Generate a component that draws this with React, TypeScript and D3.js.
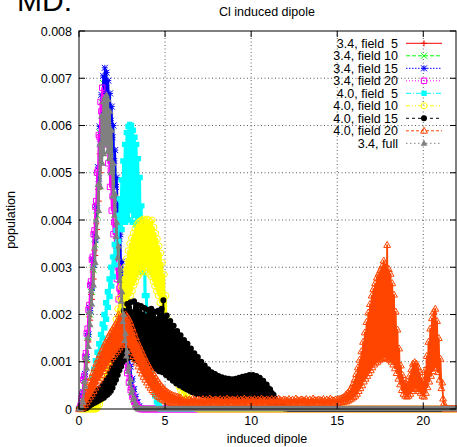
import React from "react";
import * as d3 from "d3";

// ---------- data (population in units of 1e-5, histogram bins of 0.05) ----------
const BIN = 0.05;
const X_END = 21.9;
const UNIT = 1e-5;

const X_TICKS = [0, 5, 10, 15, 20];
const Y_TICKS = [0, 0.001, 0.002, 0.003, 0.004, 0.005, 0.006, 0.007, 0.008];
const Y_TICK_LABELS = ["0", "0.001", "0.002", "0.003", "0.004", "0.005", "0.006", "0.007", "0.008"];

const SERIES_NAMES = [
  "3.4, field  5", "3.4, field 10", "3.4, field 15", "3.4, field 20",
  "4.0, field  5", "4.0, field 10", "4.0, field 15", "4.0, field 20", "3.4, full",
];

const START_34_F5 = 0;
const POP_34_F5 = [0,0,2,10,22,30,55,62,100,98,
145,142,195,188,242,232,290,275,335,325,
392,380,465,440,540,500,600,560,640,580,
655,590,650,575,640,560,615,530,575,480,
505,430,440,380,385,330,335,285,290,238,
240,195,195,152,155,118,118,88,88,62,
60,40,40,24,24,12,12,5,5,2,1,0];

const START_34_F10 = 0;
const POP_34_F10 = [0,0,3,12,26,34,62,70,108,106,
155,152,208,200,258,248,310,295,360,348,
420,410,500,470,585,540,650,600,690,640,
700,650,690,630,665,600,630,560,585,500,
515,445,450,390,395,335,340,285,290,235,
238,190,192,148,150,112,112,82,82,56,
55,36,35,20,20,10,10,4,4,1,1,0];

const START_34_F15 = 0;
const POP_34_F15 = [0,0,3,13,28,36,66,74,112,110,
160,158,215,208,265,256,318,305,370,358,
432,425,512,488,598,560,665,620,705,660,
722,670,712,660,695,640,668,610,640,575,
600,525,548,470,490,415,430,360,370,305,
312,250,255,200,205,158,160,120,122,90,
90,62,64,42,42,26,26,14,14,6,5,2,1,0];

const START_34_F20 = 0;
const POP_34_F20 = [0,2,8,22,32,62,70,110,118,160,
170,210,220,262,270,316,322,370,378,428,
440,500,505,580,575,650,630,680,600,665,
590,645,560,610,520,560,470,505,420,450,
370,395,320,345,275,300,232,255,195,215,
160,178,128,145,100,114,76,88,56,66,
40,46,26,30,15,18,8,10,3,4,1,0];

const START_40_F5 = 0.4;
const POP_40_F5 = [0,8,4,24,18,44,36,66,52,84,
70,102,84,120,100,138,118,158,135,180,
150,200,172,225,190,248,215,275,238,300,
260,322,280,348,305,378,330,410,355,445,
385,485,380,525,400,560,395,585,410,598,
400,602,420,600,395,590,410,575,390,560,
380,530,360,490,330,430,290,370,240,305,
195,240,150,180,108,130,75,90,48,58,
28,34,15,18,6,8,2,0];

const START_40_F10 = 1.0;
const POP_40_F10 = [0,6,3,16,10,30,20,46,32,62,
46,78,60,95,75,112,88,130,102,150,
115,170,128,190,140,212,150,235,165,258,
175,280,190,300,200,318,215,335,225,350,
240,362,250,372,262,382,270,390,280,395,
285,398,290,400,295,402,290,398,300,402,
290,400,285,396,280,400,270,385,260,372,
250,360,240,345,225,330,210,310,190,285,
165,240,140,190,120,155,100,130,88,112,
76,98,66,86,56,74,48,64,40,54,
34,46,28,38,22,30,16,24,12,18,
8,12,5,8,3,4,1,2,0];

const START_40_F15 = 0.3;
const POP_40_F15 = [0,4,8,2,12,5,18,8,22,10,26,12,30,14,36,16,40,18,44,20,
46,22,52,24,55,28,62,30,66,34,76,38,88,45,102,55,120,62,142,72,
158,82,180,90,192,100,208,104,200,112,222,108,214,118,226,110,205,116,228,104,
212,112,220,100,206,110,218,98,200,106,214,95,196,104,210,92,202,100,212,88,
196,96,206,85,190,92,208,80,198,88,212,78,230,82,192,72,198,76,180,66,
186,68,170,60,176,62,160,54,165,56,150,50,156,52,142,46,146,44,132,42,
138,40,124,38,128,36,115,35,118,34,106,32,110,32,98,31,100,30,90,29,
92,29,82,28,84,28,76,27,78,27,72,26,74,26,68,25,70,25,64,25,
67,24,62,24,65,24,60,24,64,24,60,24,63,24,61,24,64,25,62,25,
66,25,63,25,68,26,64,26,70,26,66,26,72,26,67,26,72,25,66,25,
70,24,64,24,66,23,60,22,60,20,52,18,52,16,44,14,42,12,34,10,
30,8,22,6,18,5,13,4,10,3,6,2,5,1,3,1,2,0,1,0];

const START_40_F20 = 0;
const POP_40_F20 = [0,0,0,2,8,3,22,8,34,14,46,20,56,26,66,32,76,38,86,45,
96,52,105,60,114,66,122,72,130,80,138,86,145,92,152,98,160,105,166,110,
172,115,178,120,185,125,200,130,192,135,196,138,198,140,200,138,196,135,190,128,
182,120,172,112,162,105,152,98,142,90,134,82,126,75,118,68,110,62,102,56,
95,50,88,45,82,40,76,36,70,32,64,28,58,25,53,22,48,20,44,18,
40,16,37,15,34,14,32,13,30,12,28,12,27,11,26,11,25,10,24,10,
19,12,18,14,21,11,17,13,20,12,18,14,22,10,19,13,18,12,20,11,
19,12,18,14,21,11,17,13,20,12,18,14,22,10,19,13,18,12,20,11,
19,12,18,14,21,11,17,13,20,12,18,14,22,10,19,13,18,12,20,11,
19,12,18,14,21,11,17,13,20,12,18,14,22,10,19,13,18,12,20,11,
19,12,18,14,21,11,17,13,20,12,18,14,22,10,19,13,18,12,20,11,
19,12,18,14,21,11,17,13,20,12,18,14,22,10,19,13,18,12,20,11,
19,12,18,14,21,11,17,13,20,12,18,14,22,10,19,13,18,12,20,11,
19,12,18,14,21,11,17,13,20,12,18,14,22,10,19,13,18,12,20,11,
19,12,18,14,21,11,17,13,20,12,18,14,22,10,19,13,18,12,20,11,
20,13,21,14,22,14,24,15,26,16,
30,16,34,18,38,20,44,22,52,25,62,28,74,32,88,38,104,44,122,50,
142,58,162,64,184,70,204,76,222,82,240,88,254,94,266,98,278,100,286,104,
294,106,302,108,314,110,306,108,347,106,296,104,286,100,266,94,242,86,206,76,
168,64,128,52,92,40,72,32,60,28,54,26,58,28,70,32,84,38,96,42,
99,44,96,42,88,38,78,34,66,28,58,26,82,34,112,46,142,58,170,70,
192,80,206,86,212,88,186,78,150,62,106,44,56,22,12,4,0];

const START_34_FULL = 0;
const POP_34_FULL = [0,0,0,5,18,14,58,48,110,86,
150,132,205,178,250,222,298,262,342,310,
400,365,475,420,560,470,620,520,650,540,
660,560,665,545,655,530,630,500,590,450,
520,410,455,365,395,320,345,272,295,228,
248,185,200,145,160,112,122,80,90,55,
62,34,40,20,24,9,12,4,5,1,2,0];

const SERIES_DATA = [
  { start: START_34_F5, values: POP_34_F5 },
  { start: START_34_F10, values: POP_34_F10 },
  { start: START_34_F15, values: POP_34_F15 },
  { start: START_34_F20, values: POP_34_F20 },
  { start: START_40_F5, values: POP_40_F5 },
  { start: START_40_F10, values: POP_40_F10 },
  { start: START_40_F15, values: POP_40_F15 },
  { start: START_40_F20, values: POP_40_F20 },
  { start: START_34_FULL, values: POP_34_FULL },
];

// ---------- styles ----------
const STYLES = [
  { color: "#ff0000", dash: "", marker: "plus" },
  { color: "#00ff00", dash: "4,2", marker: "cross" },
  { color: "#0000ff", dash: "1.5,1.5", marker: "star" },
  { color: "#ff00ff", dash: "1,2", marker: "osquare" },
  { color: "#00ffff", dash: "5,2,1,2", marker: "fsquare" },
  { color: "#ffff00", dash: "4,2,1,2,1,2", marker: "ocircle" },
  { color: "#000000", dash: "3,3", marker: "fcircle" },
  { color: "#ff4500", dash: "3,2", marker: "otriangle" },
  { color: "#808080", dash: "1.5,2.5", marker: "ftriangle" },
];

const FONT = '"Liberation Sans", Arial, Helvetica, sans-serif';
const W = 457, H = 447;
const LEFT = 79, RIGHT = 456, TOP = 31, BOTTOM = 409;

const f = (v: number) => Math.round(v * 100) / 100;

function markerPath(type: string, x: number, y: number): string {
  const s = 3;
  x = f(x); y = f(y);
  switch (type) {
    case "plus":
      return `M${x - s},${y}H${x + s}M${x},${y - s}V${y + s}`;
    case "cross":
      return `M${x - s},${y - s}L${x + s},${y + s}M${x - s},${y + s}L${x + s},${y - s}`;
    case "star":
      return `M${x - s},${y}H${x + s}M${x},${y - s}V${y + s}M${x - s},${y - s}L${x + s},${y + s}M${x - s},${y + s}L${x + s},${y - s}`;
    case "osquare":
    case "fsquare": {
      const q = 2.7;
      return `M${f(x - q)},${f(y - q)}h${2 * q}v${2 * q}h${-2 * q}Z`;
    }
    case "ocircle":
    case "fcircle": {
      const r = 3;
      return `M${x - r},${y}a${r},${r} 0 1,0 ${2 * r},0a${r},${r} 0 1,0 ${-2 * r},0`;
    }
    default:
      return `M${x},${f(y - 3.6)}L${f(x + 3.4)},${f(y + 2.4)}L${f(x - 3.4)},${f(y + 2.4)}Z`;
  }
}

function markerStyle(type: string, color: string) {
  if (type === "fsquare" || type === "fcircle" || type === "ftriangle") {
    return { fill: color, stroke: "none" };
  }
  return { fill: "none", stroke: color, strokeWidth: 1 };
}

export default function App() {
  const x = d3.scaleLinear().domain([0, X_END]).range([LEFT, RIGHT]);
  const y = d3.scaleLinear().domain([0, 0.008]).range([BOTTOM, TOP]);
  const nBins = Math.round(X_END / BIN);

  const series = SERIES_DATA.map((s, si) => {
    const k0 = Math.round(s.start / BIN);
    const pts: [number, number][] = [];
    for (let i = 0; i <= nBins; i++) {
      const j = i - k0;
      const v = j >= 0 && j < s.values.length ? s.values[j] * UNIT : 0;
      pts.push([i * BIN, v]);
    }
    const line = d3.line<[number, number]>()
      .x((d) => f(x(d[0])))
      .y((d) => f(y(d[1])))(pts) || "";
    const marks = pts.map((d) => markerPath(STYLES[si].marker, x(d[0]), y(d[1]))).join("");
    return { line, marks, style: STYLES[si], name: SERIES_NAMES[si] };
  });

  const legendY = (i: number) => 43.3 + 12.5 * i;

  return (
    <svg width={W} height={H} style={{ position: "absolute", left: 0, top: 0, background: "#fff" }}
      fontFamily={FONT}>
      <rect x={0} y={0} width={W} height={H} fill="#fff" />
      <text x={17} y={11} fontSize={30} fill="#000">MD:</text>
      <text x={267} y={16} fontSize={12.5} textAnchor="middle">Cl induced dipole</text>

      {/* grid */}
      {Y_TICKS.filter((t) => t > 0 && t < 0.008).map((t) => (
        <line key={"gy" + t} x1={LEFT} x2={RIGHT} y1={f(y(t))} y2={f(y(t))}
          stroke="#333" strokeWidth={0.8} strokeDasharray="1,2.5" />
      ))}
      {X_TICKS.filter((t) => t > 0).map((t) => (
        <line key={"gx" + t} y1={TOP} y2={BOTTOM} x1={f(x(t))} x2={f(x(t))}
          stroke="#333" strokeWidth={0.8} strokeDasharray="1,2.5" />
      ))}

      {/* data: dense noisy linespoints */}
      {series.map((s, i) => (
        <g key={"s" + i}>
          <path d={s.line} fill="none" stroke={s.style.color} strokeWidth={1.8} strokeLinejoin="round" />
          <path d={s.marks} {...markerStyle(s.style.marker, s.style.color)} />
        </g>
      ))}

      {/* frame and ticks */}
      <rect x={LEFT} y={TOP} width={RIGHT - LEFT} height={BOTTOM - TOP} fill="none" stroke="#000" strokeWidth={1} />
      {Y_TICKS.map((t, i) => (
        <g key={"ty" + t}>
          <line x1={LEFT} x2={LEFT + 6} y1={f(y(t))} y2={f(y(t))} stroke="#000" />
          <line x1={RIGHT} x2={RIGHT - 6} y1={f(y(t))} y2={f(y(t))} stroke="#000" />
          <text x={72} y={f(y(t)) + 4.5} fontSize={12.5} textAnchor="end">{Y_TICK_LABELS[i]}</text>
        </g>
      ))}
      {X_TICKS.map((t) => (
        <g key={"tx" + t}>
          <line x1={f(x(t))} x2={f(x(t))} y1={BOTTOM} y2={BOTTOM - 6} stroke="#000" />
          <line x1={f(x(t))} x2={f(x(t))} y1={TOP} y2={TOP + 6} stroke="#000" />
          <text x={f(x(t))} y={425} fontSize={12.5} textAnchor="middle">{String(t)}</text>
        </g>
      ))}

      <text x={267} y={443} fontSize={12.5} textAnchor="middle">induced dipole</text>
      <text transform="translate(15,220) rotate(-90)" fontSize={12.5} textAnchor="middle">population</text>

      {/* legend */}
      {series.map((s, i) => (
        <g key={"l" + i}>
          <text x={398} y={legendY(i) + 4.5} fontSize={12.5} textAnchor="end"
            style={{ whiteSpace: "pre" }}>{s.name}</text>
          <line x1={406} x2={442} y1={legendY(i)} y2={legendY(i)} stroke={s.style.color}
            strokeWidth={1} strokeDasharray={s.style.dash || undefined} />
          <path d={markerPath(s.style.marker, 424, legendY(i))} {...markerStyle(s.style.marker, s.style.color)} />
        </g>
      ))}
    </svg>
  );
}
